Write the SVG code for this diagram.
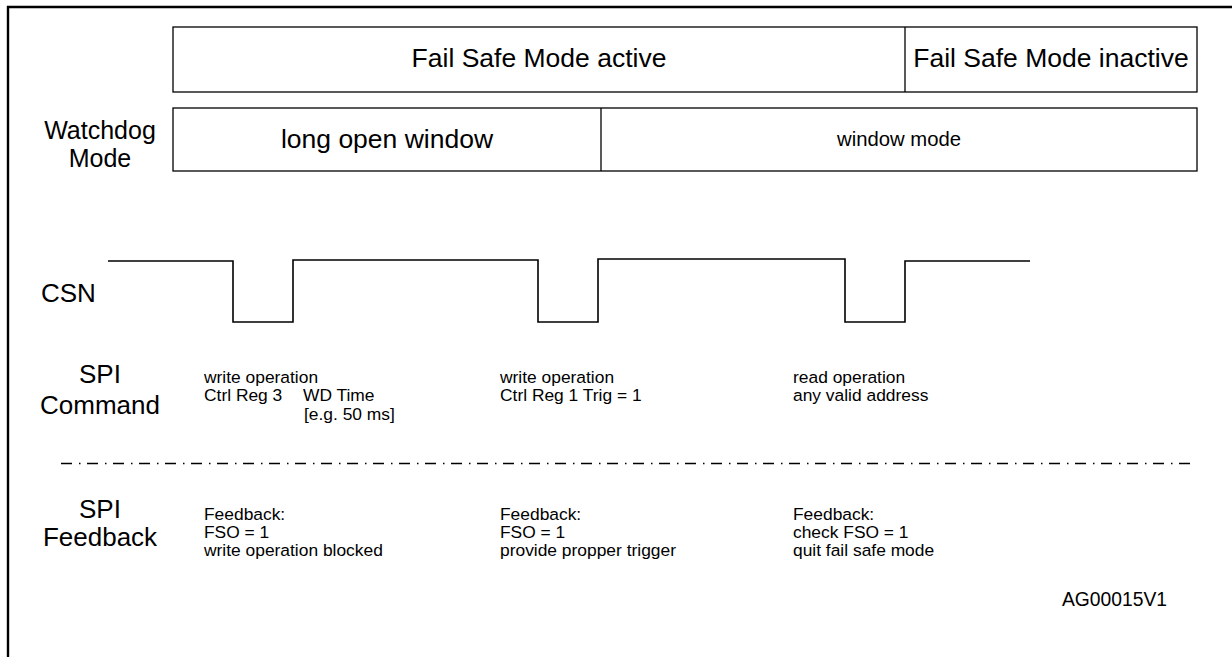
<svg xmlns="http://www.w3.org/2000/svg" width="1232" height="657" viewBox="0 0 1232 657">
<style>
text{font-family:"Liberation Sans",Arial,sans-serif;fill:#000}
.box{fill:#fff;stroke:#000;stroke-width:1.3}
.big{font-size:26px}
.lbl{font-size:25px}
.boxt{font-size:26.5px}
.mid{font-size:20.3px}
.sm{font-size:17.4px}
.wave{fill:none;stroke:#000;stroke-width:1.6}
</style>
<rect width="1232" height="657" fill="#fff"/>
<path d="M8,657 V7 H1232" fill="none" stroke="#000" stroke-width="2.4"/>
<g id="fail-safe-row">
<rect class="box" x="173" y="27" width="1024" height="65"/>
<line x1="905" y1="27" x2="905" y2="92" stroke="#000" stroke-width="1.3"/>
<text class="boxt" x="539" y="67" text-anchor="middle">Fail Safe Mode active</text>
<text class="boxt" x="1051" y="67" text-anchor="middle">Fail Safe Mode inactive</text>
</g>
<g id="watchdog-row">
<text class="lbl" x="100" y="139" text-anchor="middle">Watchdog</text>
<text class="lbl" x="100" y="167" text-anchor="middle">Mode</text>
<rect class="box" x="173" y="108" width="1024" height="63"/>
<line x1="601" y1="108" x2="601" y2="171" stroke="#000" stroke-width="1.3"/>
<text class="boxt" x="387" y="148" text-anchor="middle">long open window</text>
<text class="mid" x="899" y="146" text-anchor="middle">window mode</text>
</g>
<g id="csn">
<text class="big" x="41" y="302">CSN</text>
<path class="wave" d="M108,261 H233 V322 H293 V260 H538 V322 H598 V259 H845 V322 H905 V261 H1030"/>
</g>
<g id="spi-command">
<text class="big" x="100" y="383" text-anchor="middle">SPI</text>
<text class="big" x="100" y="414" text-anchor="middle">Command</text>
<text class="sm" x="204" y="383">write operation</text>
<text class="sm" x="204" y="401">Ctrl Reg 3</text>
<text class="sm" x="303" y="401">WD Time</text>
<text class="sm" x="304" y="420">[e.g. 50 ms]</text>
<text class="sm" x="500" y="383">write operation</text>
<text class="sm" x="500" y="401">Ctrl Reg 1 Trig = 1</text>
<text class="sm" x="793" y="383">read operation</text>
<text class="sm" x="793" y="401">any valid address</text>
</g>
<g id="separator">
<line x1="61" y1="463.5" x2="1197" y2="463.5" stroke="#000" stroke-width="1.3" stroke-dasharray="11,7,1.5,6.5"/>
</g>
<g id="spi-feedback">
<text class="big" x="100" y="518" text-anchor="middle">SPI</text>
<text class="big" x="100" y="546" text-anchor="middle">Feedback</text>
<text class="sm" x="204" y="520">Feedback:</text>
<text class="sm" x="204" y="538">FSO = 1</text>
<text class="sm" x="204" y="556">write operation blocked</text>
<text class="sm" x="500" y="520">Feedback:</text>
<text class="sm" x="500" y="538">FSO = 1</text>
<text class="sm" x="500" y="556">provide propper trigger</text>
<text class="sm" x="793" y="520">Feedback:</text>
<text class="sm" x="793" y="538">check FSO = 1</text>
<text class="sm" x="793" y="556">quit fail safe mode</text>
</g>
<text x="1062" y="606" style="font-size:19.3px">AG00015V1</text>
</svg>
